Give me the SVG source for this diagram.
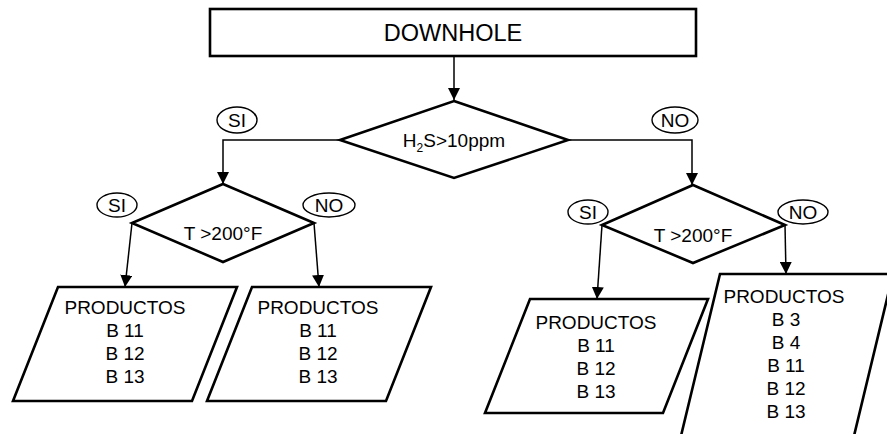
<svg xmlns="http://www.w3.org/2000/svg" width="887" height="434" viewBox="0 0 887 434">
  <defs>
    <marker id="arrow" viewBox="0 0 12 12" refX="12" refY="6" markerWidth="12" markerHeight="12" markerUnits="userSpaceOnUse" orient="auto">
      <path d="M0,0 L12,6 L0,12 Z" fill="#000"/>
    </marker>
  </defs>
  <style>
    .shape { fill: #fff; stroke: #000; stroke-width: 2.6; stroke-linejoin: miter; }
    .tag { fill: #fff; stroke: #000; stroke-width: 1.4; }
    .link { fill: none; stroke: #000; stroke-width: 1.5; marker-end: url(#arrow); }
    text { font-family: "Liberation Sans", Arial, sans-serif; font-size: 19px; fill: #000; text-anchor: middle; }
    .big { font-size: 23.5px; }
  </style>

  <rect width="887" height="434" fill="#fff"/>

  <!-- connectors -->
  <g id="connectors">
    <path class="link" d="M454,57 L454,100"/>
    <path class="link" d="M340,140 L223,140 L223,184"/>
    <path class="link" d="M568,140 L692,140 L692,185"/>
    <path class="link" d="M132,223 L125,287"/>
    <path class="link" d="M314,223 L319,287"/>
    <path class="link" d="M602,225 L597,299"/>
    <path class="link" d="M785,225 L786,274"/>
  </g>

  <!-- start box -->
  <g id="downhole">
    <rect class="shape" x="210" y="9" width="486" height="47"/>
    <text class="big" x="453" y="41">DOWNHOLE</text>
  </g>

  <!-- H2S decision -->
  <g id="h2s">
    <polygon class="shape" points="454,101 568,140 454,178 340,140"/>
    <text x="454" y="147">H<tspan font-size="12" dy="5">2</tspan><tspan dy="-5">S&gt;10ppm</tspan></text>
  </g>
  <g id="h2s-si">
    <ellipse class="tag" cx="237" cy="120" rx="20" ry="13"/>
    <text x="237" y="127">SI</text>
  </g>
  <g id="h2s-no">
    <ellipse class="tag" cx="675" cy="120" rx="23" ry="13"/>
    <text x="675" y="127">NO</text>
  </g>

  <!-- temperature decision, left branch -->
  <g id="temp-left">
    <polygon class="shape" points="223,184 314,223 223,262 132,223"/>
    <text x="223" y="240">T &gt;200°F</text>
  </g>
  <g id="temp-left-si">
    <ellipse class="tag" cx="117" cy="205" rx="20" ry="12"/>
    <text x="117" y="212">SI</text>
  </g>
  <g id="temp-left-no">
    <ellipse class="tag" cx="329" cy="205" rx="26" ry="12"/>
    <text x="329" y="212">NO</text>
  </g>

  <!-- temperature decision, right branch -->
  <g id="temp-right">
    <polygon class="shape" points="693,185 785,225 693,263 602,225"/>
    <text x="693" y="242">T &gt;200°F</text>
  </g>
  <g id="temp-right-si">
    <ellipse class="tag" cx="588" cy="212" rx="20" ry="12"/>
    <text x="588" y="219">SI</text>
  </g>
  <g id="temp-right-no">
    <ellipse class="tag" cx="803" cy="212" rx="25" ry="12"/>
    <text x="803" y="219">NO</text>
  </g>

  <!-- product lists -->
  <g id="products-1">
    <polygon class="shape" points="58,287 237,287 192,401 13,401"/>
    <text x="125" y="314">PRODUCTOS</text>
    <text x="125" y="337">B 11</text>
    <text x="125" y="360">B 12</text>
    <text x="125" y="383">B 13</text>
  </g>
  <g id="products-2">
    <polygon class="shape" points="252,287 431,287 386,401 207,401"/>
    <text x="318" y="314">PRODUCTOS</text>
    <text x="318" y="337">B 11</text>
    <text x="318" y="360">B 12</text>
    <text x="318" y="383">B 13</text>
  </g>
  <g id="products-3">
    <polygon class="shape" points="530,299 708,299 663,413 485,413"/>
    <text x="596" y="329">PRODUCTOS</text>
    <text x="596" y="352">B 11</text>
    <text x="596" y="375">B 12</text>
    <text x="596" y="398">B 13</text>
  </g>
  <g id="products-4">
    <polygon class="shape" points="720,274 893,274 853,440 680,440"/>
    <text x="784" y="303">PRODUCTOS</text>
    <text x="786" y="326">B 3</text>
    <text x="786" y="349">B 4</text>
    <text x="786" y="372">B 11</text>
    <text x="786" y="395">B 12</text>
    <text x="786" y="418">B 13</text>
  </g>
</svg>
